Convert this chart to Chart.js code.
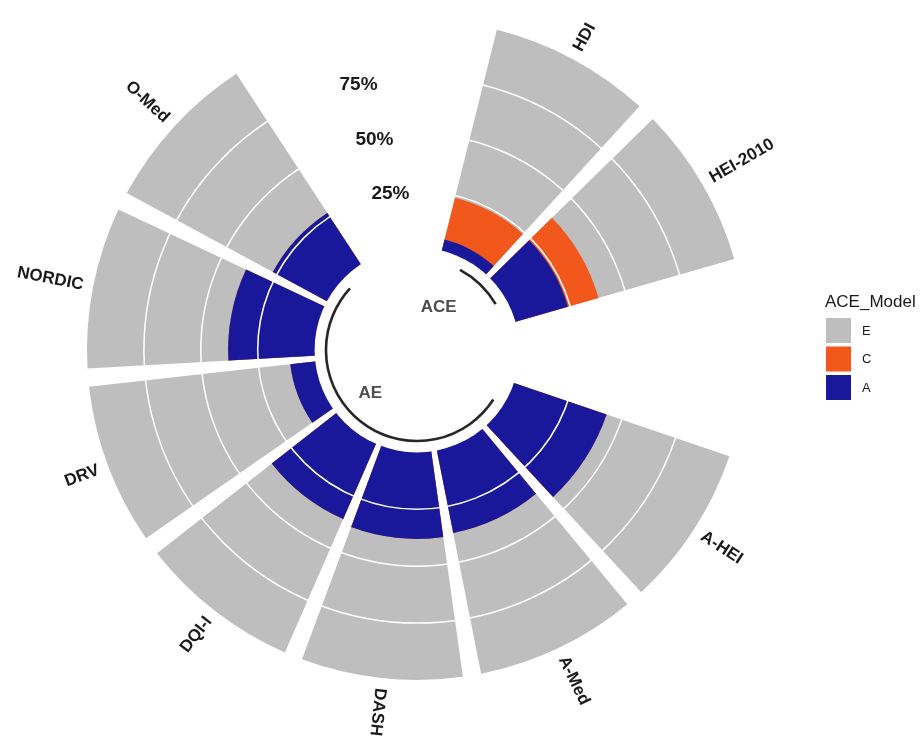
<!DOCTYPE html>
<html>
<head>
<meta charset="utf-8">
<script src="https://cdn.jsdelivr.net/npm/chart.js@4.4.1/dist/chart.umd.min.js"></script>
<style>
  html, body { margin: 0; padding: 0; background: #fff; }
</style>
</head>
<body>
<canvas id="chart" width="920" height="736"></canvas>
<script>
// diet scores, clockwise from the top
const categories = ["HDI", "HEI-2010", "A-HEI", "A-Med", "DASH", "DQI-I", "DRV", "NORDIC", "O-Med"];
const groups     = ["ACE", "ACE", "AE", "AE", "AE", "AE", "AE", "AE", "AE"];
// variance share (%) per component of the ACE model
const valuesA = [5, 24, 43, 37, 38, 36, 11, 38, 27];
const valuesC = [19, 14, 0, 0, 0, 0, 0, 0, 0];
const valuesE = [76, 62, 57, 63, 62, 64, 89, 62, 73];
const gridTicks = [25, 50, 75];
const modelNames = ["E", "C", "A"];
const colors = { E: "#BEBEBE", C: "#F2571C", A: "#1A189A" };

const FONT = "'Liberation Sans', Arial, sans-serif";
Chart.defaults.font.family = FONT;

// angular layout (degrees): bar, small gap, one empty slot between groups
const SLOT = 31.6, BAR = 28.4, GAP = SLOT - BAR;
const labels = [], angles = [], catIndex = [];
categories.forEach((c, i) => {
  if (i > 0) {
    labels.push("");
    angles.push(groups[i] !== groups[i - 1] ? GAP + SLOT : GAP);
    catIndex.push(-1);
  }
  labels.push(c); angles.push(BAR); catIndex.push(i);
});
labels.push("");
angles.push(360 - angles.reduce((a, b) => a + b, 0));
catIndex.push(-1);

// stacked tops, drawn overlapping (A on top, then A+C, then total)
const topA   = catIndex.map(k => k < 0 ? null : valuesA[k]);
const topAC  = catIndex.map(k => k < 0 ? null : valuesA[k] + valuesC[k]);
const topACE = catIndex.map(k => k < 0 ? null : valuesA[k] + valuesC[k] + valuesE[k]);

function ds(name, data){
  return {
    label: name,
    data,
    backgroundColor: ctx => catIndex[ctx.dataIndex] < 0 ? "rgba(0,0,0,0)" : colors[name],
    borderWidth: 0,
    angle: ctx => angles[ctx.dataIndex]
  };
}

const toRad = d => d * Math.PI / 180;

const polarExtras = {
  id: "polarExtras",
  afterDatasetsDraw(chart){
    // hollow centre
    const s = chart.scales.r, ctx = chart.ctx;
    ctx.save();
    ctx.fillStyle = "#ffffff";
    ctx.beginPath();
    ctx.arc(s.xCenter, s.yCenter, s.getDistanceFromCenterForValue(0), 0, Math.PI * 2);
    ctx.fill();
    ctx.restore();
  },
  afterDraw(chart){
    const s = chart.scales.r, ctx = chart.ctx;
    const cx = s.xCenter, cy = s.yCenter;
    const arcs = chart.getDatasetMeta(2).data;
    const mid = i => (arcs[i].startAngle + arcs[i].endAngle) / 2;
    ctx.save();

    // group base lines + names
    const groupNames = [...new Set(groups)];
    const groupLabelPos = { ACE: { deg: 27, v: -24 }, AE: { deg: 227, v: -17 } };
    groupNames.forEach(g => {
      const idx = catIndex.map((k, i) => (k >= 0 && groups[k] === g) ? i : -1).filter(i => i >= 0);
      ctx.strokeStyle = "#262626";
      ctx.lineWidth = 2.6;
      ctx.beginPath();
      ctx.arc(cx, cy, s.getDistanceFromCenterForValue(-5), mid(idx[0]), mid(idx[idx.length - 1]));
      ctx.stroke();
      const p = groupLabelPos[g];
      const rr = s.getDistanceFromCenterForValue(p.v);
      ctx.fillStyle = "#4D4D4D";
      ctx.font = "bold 17px " + FONT;
      ctx.textAlign = "center";
      ctx.textBaseline = "middle";
      ctx.fillText(g, cx + rr * Math.sin(toRad(p.deg)), cy - rr * Math.cos(toRad(p.deg)));
    });

    // percentage labels in the top gap
    ctx.fillStyle = "#1A1A1A";
    ctx.font = "bold 19px " + FONT;
    ctx.textAlign = "left";
    ctx.textBaseline = "middle";
    gridTicks.forEach(v => {
      const rr = s.getDistanceFromCenterForValue(v) + 3;
      const a = toRad(-16.3);
      ctx.fillText(v + "%", cx + rr * Math.sin(a), cy - rr * Math.cos(a));
    });

    // category names along the radius
    ctx.font = "bold 17px " + FONT;
    catIndex.forEach((k, i) => {
      if (k < 0) return;
      const a = mid(i);
      const rr = s.getDistanceFromCenterForValue(100) + 10;
      let deg = (a * 180 / Math.PI + 90) % 360;
      if (deg < 0) deg += 360;
      ctx.save();
      ctx.translate(cx + rr * Math.cos(a), cy + rr * Math.sin(a));
      if (deg <= 190) {
        ctx.rotate(a);
        ctx.textAlign = "left";
      } else {
        ctx.rotate(a + Math.PI);
        ctx.textAlign = "right";
      }
      ctx.textBaseline = "middle";
      ctx.fillText(categories[k], 0, 0);
      ctx.restore();
    });

    // legend
    const lx = chart.chartArea.right + 2, ly = 302;
    ctx.fillStyle = "#1A1A1A";
    ctx.font = "17px " + FONT;
    ctx.textAlign = "left";
    ctx.textBaseline = "middle";
    ctx.fillText("ACE_Model", lx, ly);
    ctx.font = "13px " + FONT;
    modelNames.forEach((n, i) => {
      const y = ly + 16 + i * 28.5;
      ctx.fillStyle = colors[n];
      ctx.fillRect(lx + 1, y, 25, 25);
      ctx.fillStyle = "#1A1A1A";
      ctx.fillText(n, lx + 37, y + 13);
    });
    ctx.restore();
  }
};

new Chart(document.getElementById("chart"), {
  type: "polarArea",
  data: {
    labels,
    datasets: [ds("A", topA), ds("C", topAC), ds("E", topACE)]
  },
  options: {
    responsive: false,
    animation: false,
    layout: { padding: { left: 11, right: 97, top: 20, bottom: 56 } },
    scales: {
      r: {
        min: -45,
        max: 100,
        startAngle: 14,
        ticks: { display: false, stepSize: 25 },
        angleLines: { display: false },
        pointLabels: { display: false },
        grid: {
          circular: true,
          z: 1,
          lineWidth: 1.5,
          color: ctx => gridTicks.includes(ctx.tick && ctx.tick.value) ? "#ffffff" : "rgba(0,0,0,0)"
        }
      }
    },
    plugins: {
      tooltip: { enabled: false },
      legend: { display: false }
    }
  },
  plugins: [polarExtras]
});
</script>
</body>
</html>
